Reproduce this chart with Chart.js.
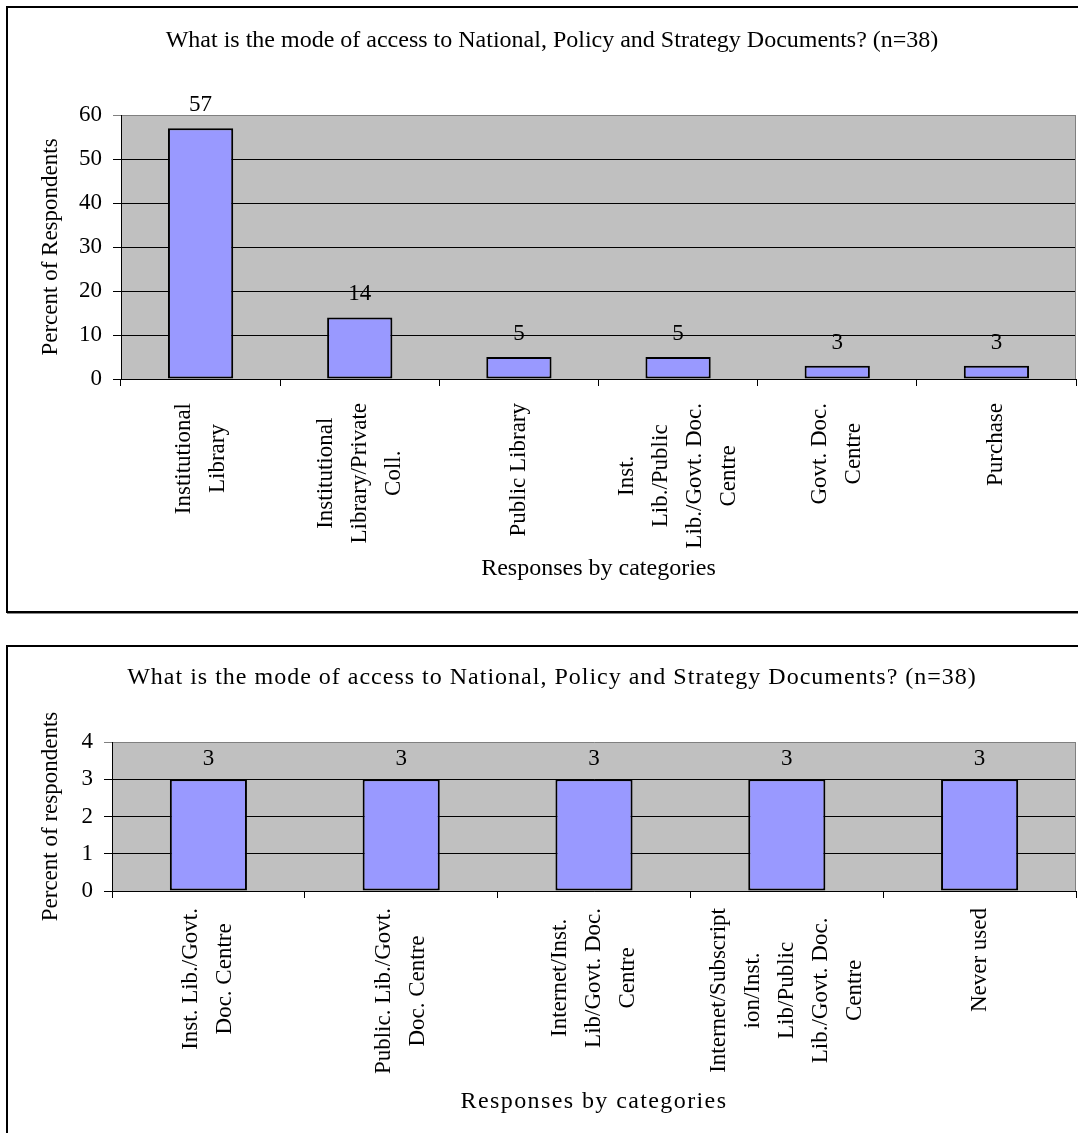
<!DOCTYPE html>
<html>
<head>
<meta charset="utf-8">
<script src="https://cdn.jsdelivr.net/npm/chart.js@4.4.1/dist/chart.umd.min.js"></script>
<style>
  html, body { margin: 0; padding: 0; background: #fff; overflow: hidden; }
  body { width: 1078px; height: 1133px; position: relative; }
  .frame { position: absolute; border: 2px solid #000; box-sizing: border-box; box-shadow: 1px 1px 0 #888; }
  #frame1 { left: 6px; top: 6px; width: 1100px; height: 607px; }
  #frame2 { left: 6px; top: 645px; width: 1100px; height: 600px; }
  canvas { position: absolute; left: 0; }
  #chart1 { top: 0; }
  #chart2 { top: 640px; }
</style>
</head>
<body>
<div class="frame" id="frame1"></div>
<div class="frame" id="frame2"></div>
<canvas id="chart1" width="1078" height="612"></canvas>
<canvas id="chart2" width="1078" height="493"></canvas>
<script>
const chartTitle = 'What is the mode of access to National, Policy and Strategy Documents? (n=38)';
const xTitle = 'Responses by categories';

const categories1 = [
  ['Institutional', 'Library'],
  ['Institutional', 'Library/Private', 'Coll.'],
  ['Public Library'],
  ['Inst.', 'Lib./Public', 'Lib./Govt. Doc.', 'Centre'],
  ['Govt. Doc.', 'Centre'],
  ['Purchase']
];
const values1 = [57, 14, 5, 5, 3, 3];
const yTicks1 = [0, 10, 20, 30, 40, 50, 60];

const categories2 = [
  ['Inst. Lib./Govt.', 'Doc. Centre'],
  ['Public. Lib./Govt.', 'Doc. Centre'],
  ['Internet/Inst.', 'Lib/Govt. Doc.', 'Centre'],
  ['Internet/Subscript', 'ion/Inst.', 'Lib/Public', 'Lib./Govt. Doc.', 'Centre'],
  ['Never used']
];
const values2 = [3, 3, 3, 3, 3];
const yTicks2 = [0, 1, 2, 3, 4];

const FONT = '"Liberation Serif", "Times New Roman", serif';

// grey plot background + grey right edge, like the old Excel charts
const plotBox = {
  id: 'plotBox',
  beforeDraw(chart) {
    const { ctx, chartArea: a } = chart;
    ctx.save();
    ctx.fillStyle = '#C0C0C0';
    ctx.fillRect(a.left, a.top, a.right - a.left, a.bottom - a.top);
    ctx.restore();
  },
  beforeDatasetsDraw(chart) {
    const { ctx, chartArea: a } = chart;
    ctx.save();
    ctx.strokeStyle = '#808080';
    ctx.lineWidth = 1;
    ctx.beginPath();
    ctx.moveTo(Math.round(a.right) - 0.5, a.top);
    ctx.lineTo(Math.round(a.right) - 0.5, a.bottom);
    ctx.stroke();
    ctx.restore();
  }
};

// value above each bar
const barValues = {
  id: 'barValues',
  afterDatasetsDraw(chart, args, opts) {
    const { ctx } = chart;
    const meta = chart.getDatasetMeta(0);
    ctx.save();
    ctx.font = '23px ' + FONT;
    ctx.fillStyle = '#000';
    ctx.textAlign = 'center';
    ctx.textBaseline = 'middle';
    meta.data.forEach((bar, i) => {
      ctx.fillText(String(chart.data.datasets[0].data[i]), bar.x, bar.y - opts.gap);
    });
    ctx.restore();
  }
};

// rotated category labels, lines centred on each other
const catLabels = {
  id: 'catLabels',
  afterDraw(chart, args, opts) {
    const { ctx } = chart;
    const x = chart.scales.x;
    ctx.save();
    ctx.font = '23px ' + FONT;
    ctx.fillStyle = '#000';
    ctx.textAlign = 'center';
    ctx.textBaseline = 'middle';
    chart.data.labels.forEach((lines, i) => {
      const cx = x.getPixelForValue(i);
      const w = Math.max(...lines.map(l => ctx.measureText(l).width));
      const cy = x.top + opts.gap + w / 2;
      lines.forEach((line, j) => {
        ctx.save();
        ctx.translate(cx + (j - (lines.length - 1) / 2) * opts.lineGap, cy);
        ctx.rotate(-Math.PI / 2);
        ctx.fillText(line, 0, 0);
        ctx.restore();
      });
    });
    ctx.restore();
  }
};

// chart title and x axis title
const titles = {
  id: 'titles',
  afterDraw(chart, args, opts) {
    const { ctx, chartArea: a } = chart;
    ctx.save();
    ctx.font = '24px ' + FONT;
    ctx.fillStyle = '#000';
    ctx.textAlign = 'center';
    ctx.textBaseline = 'middle';
    ctx.letterSpacing = opts.spacing;
    ctx.fillText(opts.title, opts.titleX, opts.titleY);
    ctx.letterSpacing = opts.xSpacing;
    ctx.fillText(opts.xTitle, (a.left + a.right) / 2, opts.xTitleY);
    ctx.restore();
  }
};

function makeChart(id, cfg) {
  const top = cfg.ticks[cfg.ticks.length - 1];
  return new Chart(document.getElementById(id), {
    type: 'bar',
    data: {
      labels: cfg.labels,
      datasets: [{
        data: cfg.values,
        backgroundColor: '#9999FF',
        borderColor: '#000',
        borderWidth: 2,
        borderSkipped: false,
        categoryPercentage: 1,
        barPercentage: cfg.barPct
      }]
    },
    options: {
      responsive: false,
      animation: false,
      layout: { padding: { top: cfg.plotTop, left: 28, right: 2, bottom: 0 } },
      plugins: {
        legend: { display: false },
        tooltip: { enabled: false },
        barValues: { gap: cfg.valueGap },
        catLabels: { gap: cfg.labelGap, lineGap: 34 },
        titles: {
          title: chartTitle, xTitle: xTitle,
          spacing: cfg.spacing, xSpacing: cfg.xSpacing,
          titleX: 552, titleY: cfg.titleY, xTitleY: cfg.xTitleY
        }
      },
      scales: {
        x: {
          offset: true,
          ticks: { display: false },
          grid: { offset: true, drawOnChartArea: false, color: '#000', tickLength: 7 },
          border: { color: '#000' },
          afterFit: s => { s.height = cfg.xHeight; }
        },
        y: {
          min: 0,
          max: top,
          afterBuildTicks: s => { s.ticks = cfg.ticks.map(v => ({ value: v })); },
          ticks: { font: { family: FONT, size: 23 }, color: '#000', padding: 11 },
          grid: {
            color: c => (c.tick && c.tick.value === top ? '#808080' : '#000'),
            tickLength: 8
          },
          border: { color: '#000' },
          title: {
            display: true, text: cfg.yTitle, color: '#000',
            font: { family: FONT, size: 23 }, padding: { top: 9, bottom: 0 }
          },
          afterFit: s => { s.width = cfg.yWidth; }
        }
      }
    },
    plugins: [plotBox, barValues, catLabels, titles]
  });
}

makeChart('chart1', {
  labels: categories1, values: values1, ticks: yTicks1,
  yTitle: 'Percent of Respondents',
  plotTop: 115, xHeight: 612 - 379, yWidth: 121 - 28,
  barPct: 0.41, valueGap: 23, labelGap: 24,
  titleY: 41, xTitleY: 569, spacing: '0px', xSpacing: '0px'
});

makeChart('chart2', {
  labels: categories2, values: values2, ticks: yTicks2,
  yTitle: 'Percent of respondents',
  plotTop: 102, xHeight: 493 - 251, yWidth: 112 - 28,
  barPct: 0.40, valueGap: 20, labelGap: 17,
  titleY: 38, xTitleY: 462, spacing: '1px', xSpacing: '1.4px'
});
</script>
</body>
</html>
